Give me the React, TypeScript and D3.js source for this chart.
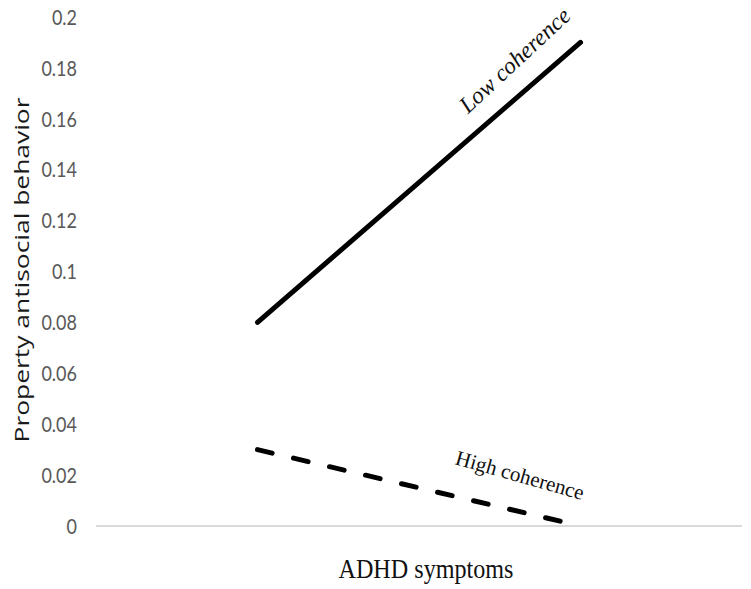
import React from "react";
import * as d3 from "d3";

const categories = ["Low ADHD", "High ADHD"];
const lowCoherence = [0.08, 0.19];
const highCoherence = [0.03, 0.0];
const yTicks = [0, 0.02, 0.04, 0.06, 0.08, 0.1, 0.12, 0.14, 0.16, 0.18, 0.2];
const seriesLabels = ["Low coherence", "High coherence"];
const xTitle = "ADHD symptoms";
const yTitle = "Property antisocial behavior";

export default function App() {
  const W = 751, H = 589;
  const left = 96, right = 742, top = 17, bottom = 526;
  const x = d3.scaleBand().domain(categories).range([left, right]);
  const cx = (c: string) => (x(c) as number) + x.bandwidth() / 2;
  const y = d3.scaleLinear().domain([0, 0.2]).range([bottom, top]);
  const line = d3.line<number>().x((_, i) => cx(categories[i])).y((d) => y(d));

  const lowAngle = (Math.atan2(y(lowCoherence[1]) - y(lowCoherence[0]), cx(categories[1]) - cx(categories[0])) * 180) / Math.PI;
  const highAngle = (Math.atan2(y(highCoherence[1]) - y(highCoherence[0]), cx(categories[1]) - cx(categories[0])) * 180) / Math.PI;

  return (
    <svg width={W} height={H} style={{ position: "absolute", left: 0, top: 0, background: "#fff" }}>
      <line x1={left} x2={right} y1={y(0)} y2={y(0)} stroke="#d9d9d9" strokeWidth={2} />
      {yTicks.map((t) => (
        <text key={t} transform={`translate(77,${y(t)}) scale(1,1.2)`} dy="0.36em" textAnchor="end" fontFamily="Lato, 'Liberation Sans', sans-serif" fontSize={18} fill="#595959">
          {String(t)}
        </text>
      ))}
      <text transform={`translate(29,270) rotate(-90)`} textAnchor="middle" textLength={345} lengthAdjust="spacingAndGlyphs" fontFamily="'Open Sans', 'Liberation Sans', sans-serif" fontSize={20.5} fill="#1a1a1a">
        {yTitle}
      </text>
      <path d={line(lowCoherence) as string} fill="none" stroke="#000" strokeWidth={5} strokeLinecap="round" />
      <path d={line(highCoherence) as string} fill="none" stroke="#000" strokeWidth={5} strokeDasharray="15,22" strokeLinecap="round" />
      <text transform={`translate(520,66) rotate(${lowAngle - 2})`} textAnchor="middle" fontFamily="'Liberation Serif', serif" fontStyle="italic" fontSize={23.5} fill="#111">
        {seriesLabels[0]}
      </text>
      <text transform={`translate(518,482) rotate(${highAngle + 2.5})`} textAnchor="middle" fontFamily="'Liberation Serif', serif" fontSize={21} fill="#111">
        {seriesLabels[1]}
      </text>
      <text transform={`translate(426,578) scale(1,1.2)`} textAnchor="middle" textLength={175} lengthAdjust="spacingAndGlyphs" fontFamily="'Liberation Serif', serif" fontSize={22} fill="#111">
        {xTitle}
      </text>
    </svg>
  );
}
